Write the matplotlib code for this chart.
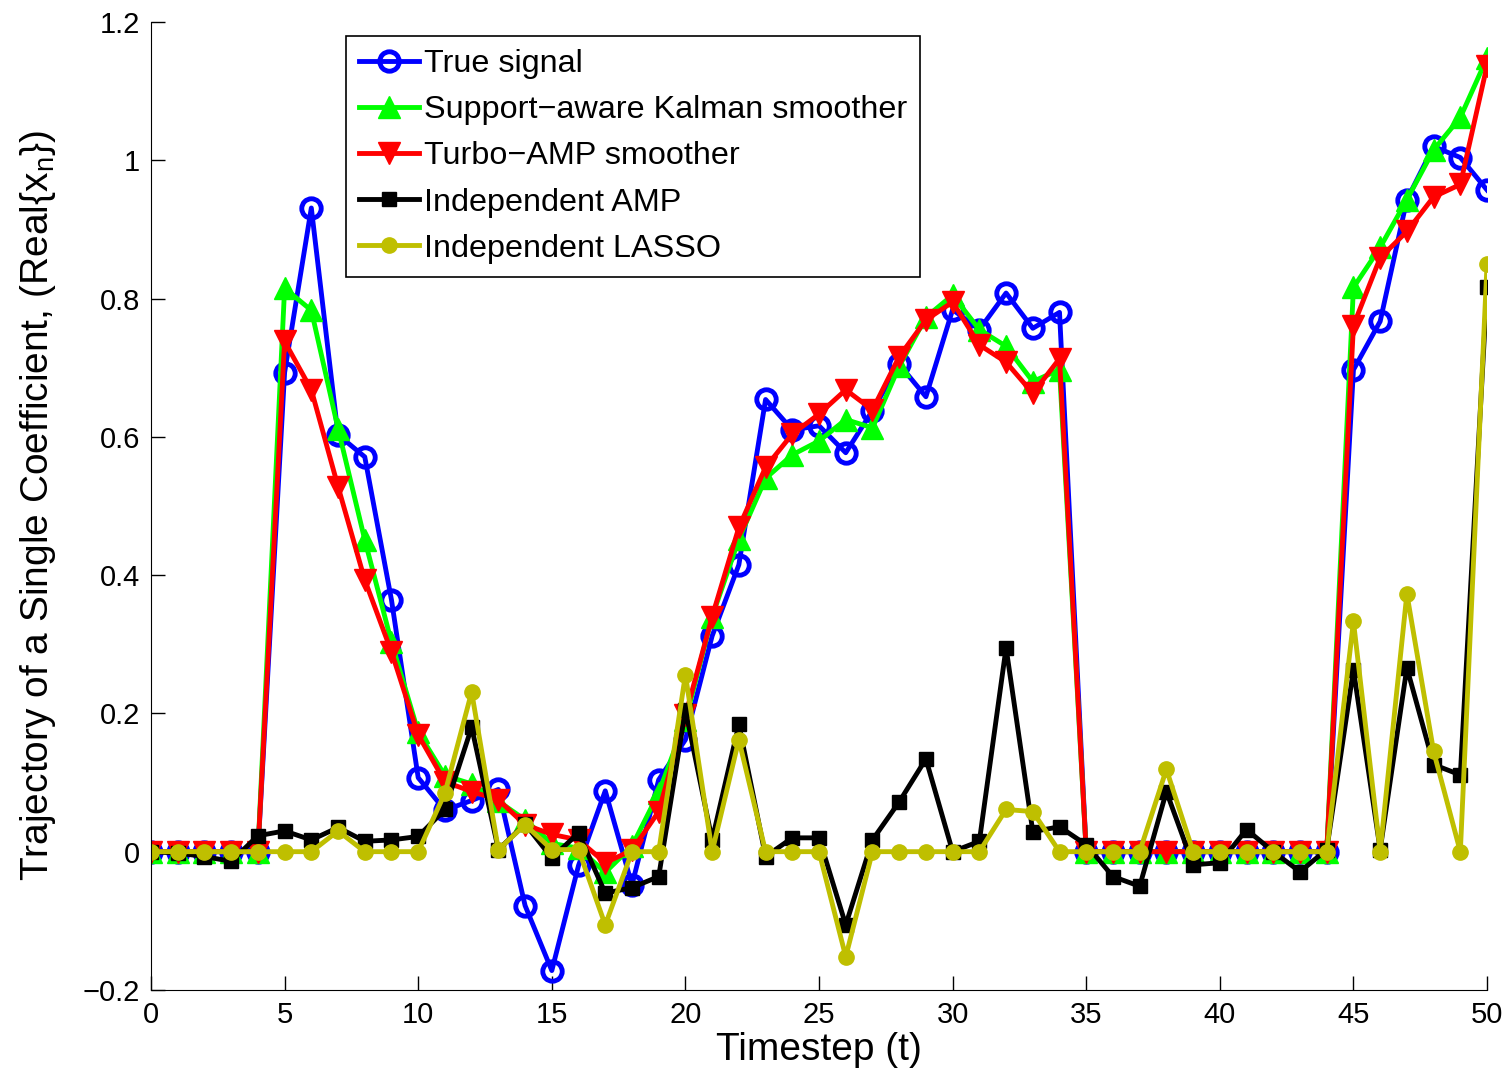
import numpy as np
import matplotlib
matplotlib.use("Agg")
import matplotlib.pyplot as plt

plt.rcParams['font.family'] = ['Liberation Sans', 'DejaVu Sans']

# timesteps
t = np.arange(0, 51)

# values
true_signal = [0, 0, 0, 0, 0, 0.693, 0.931, 0.603, 0.571, 0.364,
               0.107, 0.060, 0.074, 0.090, -0.078, -0.172, -0.020, 0.088, -0.048, 0.104,
               0.162, 0.312, 0.415, 0.654, 0.610, 0.616, 0.577, 0.638, 0.705, 0.658,
               0.784, 0.755, 0.808, 0.757, 0.780, 0, 0, 0, 0, 0,
               0, 0, 0, 0, 0, 0.697, 0.767, 0.943, 1.020, 1.004, 0.957]
kalman = [0, 0, 0, 0, 0, 0.815, 0.783, 0.612, 0.451, 0.303,
          0.173, 0.110, 0.098, 0.073, 0.046, 0.012, 0.005, -0.030, 0.008, 0.085,
          0.190, 0.340, 0.452, 0.540, 0.574, 0.594, 0.625, 0.613, 0.702, 0.773,
          0.805, 0.755, 0.731, 0.680, 0.697, 0, 0, 0, 0, 0,
          0, 0, 0, 0, 0, 0.816, 0.874, 0.943, 1.015, 1.062, 1.148]
turbo_amp = [0, 0, 0, 0, 0, 0.738, 0.668, 0.528, 0.393, 0.289,
             0.169, 0.101, 0.087, 0.075, 0.039, 0.025, 0.017, -0.016, 0.002, 0.058,
             0.197, 0.340, 0.469, 0.556, 0.604, 0.633, 0.668, 0.639, 0.716, 0.769,
             0.795, 0.733, 0.708, 0.663, 0.713, 0, 0, 0, 0, 0,
             0, 0, 0, 0, 0, 0.761, 0.859, 0.897, 0.947, 0.965, 1.137]
indep_amp = [0, -0.002, -0.007, -0.014, 0.023, 0.030, 0.017, 0.035, 0.015, 0.017,
             0.022, 0.061, 0.180, 0.003, 0.040, -0.009, 0.027, -0.060, -0.052, -0.036,
             0.205, 0.017, 0.184, -0.007, 0.020, 0.020, -0.106, 0.017, 0.072, 0.134,
             0, 0.015, 0.295, 0.029, 0.036, 0.010, -0.036, -0.050, 0.087, -0.019,
             -0.016, 0.032, 0, -0.029, 0.003, 0.263, 0.003, 0.266, 0.126, 0.111, 0.816]
indep_lasso = [0, 0, 0, 0, 0, 0, 0, 0.030, 0, 0,
               0, 0.085, 0.231, 0.003, 0.039, 0.003, 0.003, -0.106, 0, 0,
               0.256, 0, 0.162, 0, 0, 0, -0.152, 0, 0, 0,
               0, 0, 0.061, 0.058, 0, 0, 0, 0, 0.119, 0,
               0, 0, 0, 0, 0, 0.333, 0, 0.373, 0.145, 0, 0.850]

fig = plt.figure(figsize=(15.1, 10.73), dpi=100)
ax = fig.add_axes([0.1, 0.0774, 0.8848, 0.9021])

lw = 3.5
ax.plot(t, true_signal, color='blue', lw=lw, marker='o', ms=14, mfc='none', mew=3.5,
        label='True signal')
ax.plot(t, kalman, color='#00ff00', lw=lw, marker='^', ms=16,
        label='Support\u2212aware Kalman smoother')
ax.plot(t, turbo_amp, color='red', lw=lw, marker='v', ms=16,
        label='Turbo\u2212AMP smoother')
ax.plot(t, indep_amp, color='black', lw=lw, marker='s', ms=10,
        label='Independent AMP')
ax.plot(t, indep_lasso, color='#bfbf00', lw=lw, marker='o', ms=11,
        label='Independent LASSO')

ax.set_xlim(0, 50)
ax.set_ylim(-0.2, 1.2)
ax.set_xticks(range(0, 51, 5))
yt = [-0.2, 0, 0.2, 0.4, 0.6, 0.8, 1.0, 1.2]
ax.set_yticks(yt)
ax.set_yticklabels(['\u22120.2', '0', '0.2', '0.4', '0.6', '0.8', '1', '1.2'])
ax.tick_params(direction='in', length=10, width=1, labelsize=21)
ax.tick_params(axis='x', pad=8)
ax.tick_params(axis='y', pad=8)

ax.spines['top'].set_visible(False)
ax.spines['right'].set_visible(False)

ax.set_xlabel('Timestep (t)', fontsize=28, labelpad=2)
ax.set_ylabel('Trajectory of a Single Coefficient, (Real{x$_\\mathregular{n}$})', fontsize=28, labelpad=18)

leg = ax.legend(loc='upper left', bbox_to_anchor=(0.146, 0.9855), fontsize=23.3,
                frameon=True, fancybox=False, edgecolor='black', framealpha=1,
                handlelength=1.85, handletextpad=0.15, labelspacing=0.5,
                borderpad=0.4, borderaxespad=0)
leg.get_frame().set_linewidth(1.2)

fig.savefig('out.png', dpi=100)
